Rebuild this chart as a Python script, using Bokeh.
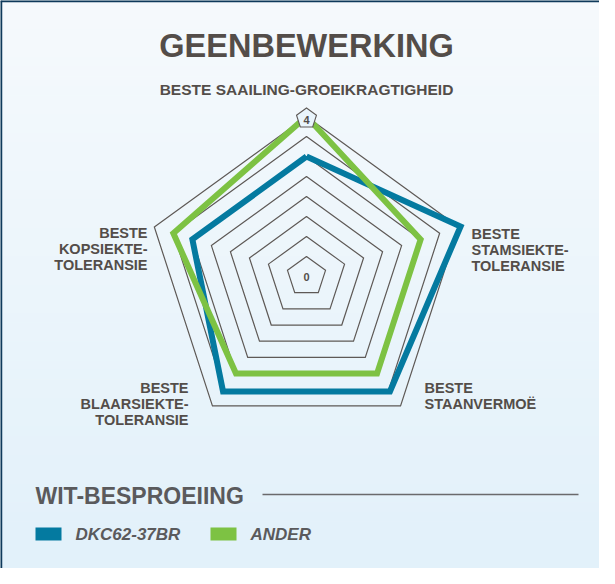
import numpy as np
from bokeh.plotting import figure
from bokeh.models import Range1d
from bokeh.embed import file_html
from bokeh.resources import INLINE
from bokeh.core.properties import value

# ---------------- data ----------------
title = "GEENBEWERKING"
categories = [
    ["BESTE SAAILING-GROEIKRAGTIGHEID"],
    ["BESTE", "STAMSIEKTE-", "TOLERANSIE"],
    ["BESTE", "STAANVERMOË"],
    ["BESTE", "BLAARSIEKTE-", "TOLERANSIE"],
    ["BESTE", "KOPSIEKTE-", "TOLERANSIE"],
]
dkc_values = [3.0, 4.05, 3.55, 3.55, 3.0]
ander_values = [4.0, 3.0, 3.0, 3.0, 3.5]
series_names = ["DKC62-37BR", "ANDER"]
legend_title = "WIT-BESPROEIING"
ring_levels = [0.5, 1.0, 1.5, 2.0, 2.5, 3.0, 3.5, 4.0]
scale_min_label = "0"
scale_max_label = "4"
scale_max = 4.0

# ---------------- style ----------------
BLUE = "#047aa0"
GREEN = "#7dc243"
TEXT = "#534d49"
LEG_TEXT = "#5a5a5c"
RING = "#5e5956"
FONT = value("Liberation Sans")

W, H = 599, 568
p = figure(width=W, height=H, output_backend="svg", toolbar_location=None,
           x_range=Range1d(8, 8 + W), y_range=Range1d(8 + H, 8),
           min_border=0, outline_line_color=None)
p.axis.visible = False
p.grid.visible = False
p.background_fill_color = "#f4f9fc"
p.border_fill_color = "#f4f9fc"

# background gradient
top_c = np.array([0xf6, 0xfa, 0xfd])
bot_c = np.array([0xe2, 0xf1, 0xfa])
nb = 60
edges = np.linspace(8, 8 + H, nb + 1)
cols = []
for i in range(nb):
    t = i / (nb - 1)
    c = (top_c * (1 - t) + bot_c * t).astype(int)
    cols.append("#%02x%02x%02x" % tuple(c))
p.quad(left=8, right=8 + W, top=edges[:-1], bottom=edges[1:] + 0.5, fill_color=cols, line_color=None)

# border (top & left)
p.line([8, 8 + W], [8.5, 8.5], line_color="#0f3a5b", line_width=2.5)
p.line([8.5, 8.5], [8, 8 + H], line_color="#0f3a5b", line_width=2.5)

cx, cy, R = 314.0, 284.0, 160.0
n = len(categories)
ang = np.arange(n) * 2 * np.pi / n


def to_xy(vals):
    r = np.asarray(vals, dtype=float) / scale_max * R
    return list(cx + r * np.sin(ang)), list(cy - r * np.cos(ang))


# rings
for lv in ring_levels:
    xs, ys = to_xy([lv] * n)
    p.line(xs + xs[:1], ys + ys[:1], line_color=RING, line_width=1.2, line_join="miter")

# series
for vals, col in [(dkc_values, BLUE), (ander_values, GREEN)]:
    xs, ys = to_xy(vals)
    p.line(xs + xs[:1], ys + ys[:1], line_color=col, line_width=6, line_join="miter")

# top marker with max label
mr = 10.5
mcx, mcy = cx, cy - R + 2
mx = list(mcx + mr * np.sin(ang))
my = list(mcy - mr * np.cos(ang))
p.patch(mx, my, fill_color="#e9f5fc", line_color=RING, line_width=1.1, line_join="miter")
p.text(x=[mcx], y=[mcy + 1], text=[scale_max_label], text_font=FONT, text_font_style="bold",
       text_font_size="11px", text_color=TEXT, text_align="center", text_baseline="middle")
p.text(x=[cx], y=[cy], text=[scale_min_label], text_font=FONT, text_font_style="bold",
       text_font_size="11px", text_color=TEXT, text_align="center", text_baseline="middle")

# title
p.text(x=[cx], y=[53], text=[title], text_font=FONT, text_font_style="bold",
       text_font_size="32.5px", text_color=TEXT, text_align="center", text_baseline="middle")

# category labels: (x, first-line y, align, size)
label_pos = [(cx, 97, "center", "15.5px"), (479, 241, "left", "14.5px"), (432, 395, "left", "14.5px"),
             (196, 395, "right", "14.5px"), (155, 240, "right", "14.5px")]
for lines, (lx, ly, al, fs) in zip(categories, label_pos):
    p.text(x=[lx] * len(lines), y=[ly + 16 * k for k in range(len(lines))], text=lines,
           text_font=FONT, text_font_style="bold", text_font_size=fs,
           text_color=TEXT, text_align=al, text_baseline="middle")

# legend
p.text(x=[43], y=[503], text=[legend_title], text_font=FONT, text_font_style="bold",
       text_font_size="23px", text_color=LEG_TEXT, text_align="left", text_baseline="middle")
p.line([270, 586], [502, 502], line_color="#6a6a6c", line_width=1.5)
leg_x = [43, 218]
for name, col, lx in zip(series_names, [BLUE, GREEN], leg_x):
    p.quad(left=lx, right=lx + 26, top=535, bottom=548, fill_color=col, line_color=None)
    p.text(x=[lx + 40], y=[542], text=[name], text_font=FONT, text_font_style="bold italic",
           text_font_size="17px", text_color=LEG_TEXT, text_align="left", text_baseline="middle")

open("out.html", "w").write(file_html(p, INLINE))
